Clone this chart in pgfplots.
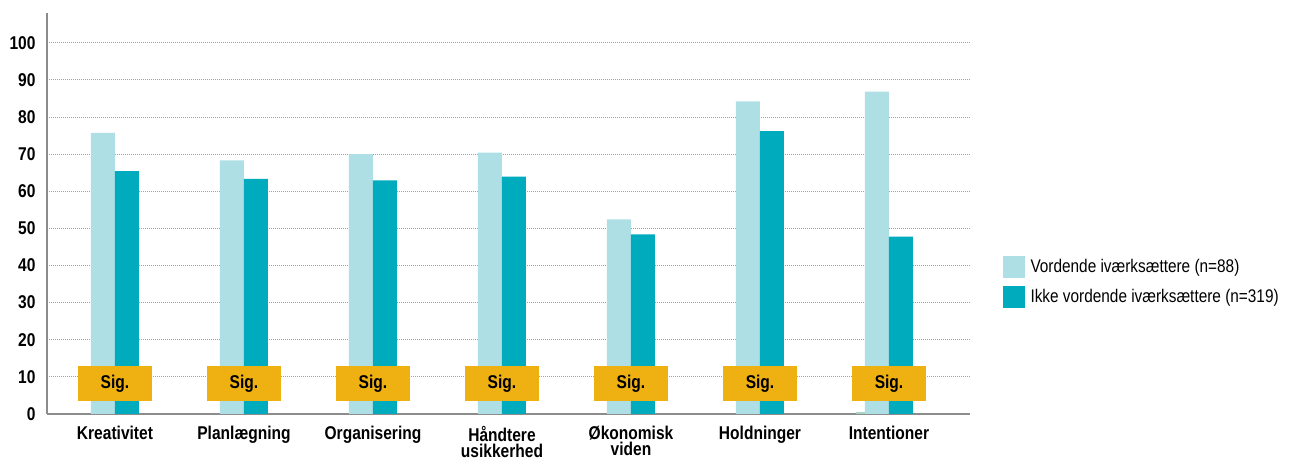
\documentclass[border=0pt]{standalone}
\usepackage{fontspec}
\setmainfont{Liberation Sans}[FakeStretch=0.84]
\usepackage{pgfplots}
\pgfplotsset{compat=1.18}

\definecolor{lightbar}{HTML}{AEDFE5}
\definecolor{darkbar}{HTML}{00ABBD}
\definecolor{sigyellow}{HTML}{EFB112}
\definecolor{sliver}{HTML}{A9D6C2}
\definecolor{axisgray}{HTML}{8C8C8C}
\definecolor{gridgray}{HTML}{A0A0A0}

\begin{document}
\begin{tikzpicture}
\path[use as bounding box] (0,0) rectangle (1290bp,461bp);
\begin{axis}[
    at={(47bp,47bp)}, anchor=south west,
    scale only axis,
    width=923bp, height=401bp,
    xmin=-0.527, xmax=6.628,
    ymin=0, ymax=108,
    axis lines*=left,
    axis line style={axisgray, line width=1.4bp, -},
    xtick={0,...,6},
    xticklabels={Kreativitet, Planlægning, Organisering, {Håndtere\\usikkerhed}, {Økonomisk\\viden}, Holdninger, Intentioner},
    ytick={0,10,...,100},
    major tick length=0pt,
    ymajorgrids,
    grid style={gridgray, dash pattern=on 0.9bp off 1.1bp, line width=0.9bp},
    tick label style={font=\fontsize{18.5bp}{16bp}\selectfont\bfseries},
    /pgf/number format/assume math mode=true,
    xticklabel style={align=center, yshift=-9bp},
    yticklabel style={xshift=-8bp},
    legend style={draw=none, fill=none, at={(1.035,0.33)}, anchor=west,
        font=\fontsize{18.3bp}{20bp}\selectfont, inner sep=0pt, row sep=8bp,
        cells={anchor=west},
        /tikz/every odd column/.append style={column sep=4bp}},
    legend image code/.code={\fill[#1, draw=none] (0bp,-11bp) rectangle (22bp,11bp);},
]
\addplot[ybar, bar width=24bp, bar shift=-12bp, fill=lightbar, draw=none]
    coordinates {(0,75.7) (1,68.3) (2,70.0) (3,70.4) (4,52.4) (5,84.2) (6,86.8)};
\addlegendentry{Vordende iværksættere (n=88)}
\addplot[ybar, bar width=24bp, bar shift=12bp, fill=darkbar, draw=none]
    coordinates {(0,65.4) (1,63.3) (2,62.9) (3,63.9) (4,48.4) (5,76.2) (6,47.8)};
\addlegendentry{Ikke vordende iværksættere (n=319)}
\addplot[ybar, bar width=9bp, bar shift=-28.5bp, fill=sliver, draw=none, forget plot]
    coordinates {(6,0.6)};
\addplot[draw=none, mark=none, forget plot,
    nodes near coords={Sig.},
    every node near coord/.style={anchor=center, fill=sigyellow, inner sep=0pt,
        minimum width=74bp, minimum height=35bp,
        font=\fontsize{18.5bp}{20bp}\selectfont\bfseries, text=black}]
    coordinates {(0,8.2) (1,8.2) (2,8.2) (3,8.2) (4,8.2) (5,8.2) (6,8.2)};
\end{axis}
\end{tikzpicture}
\end{document}
